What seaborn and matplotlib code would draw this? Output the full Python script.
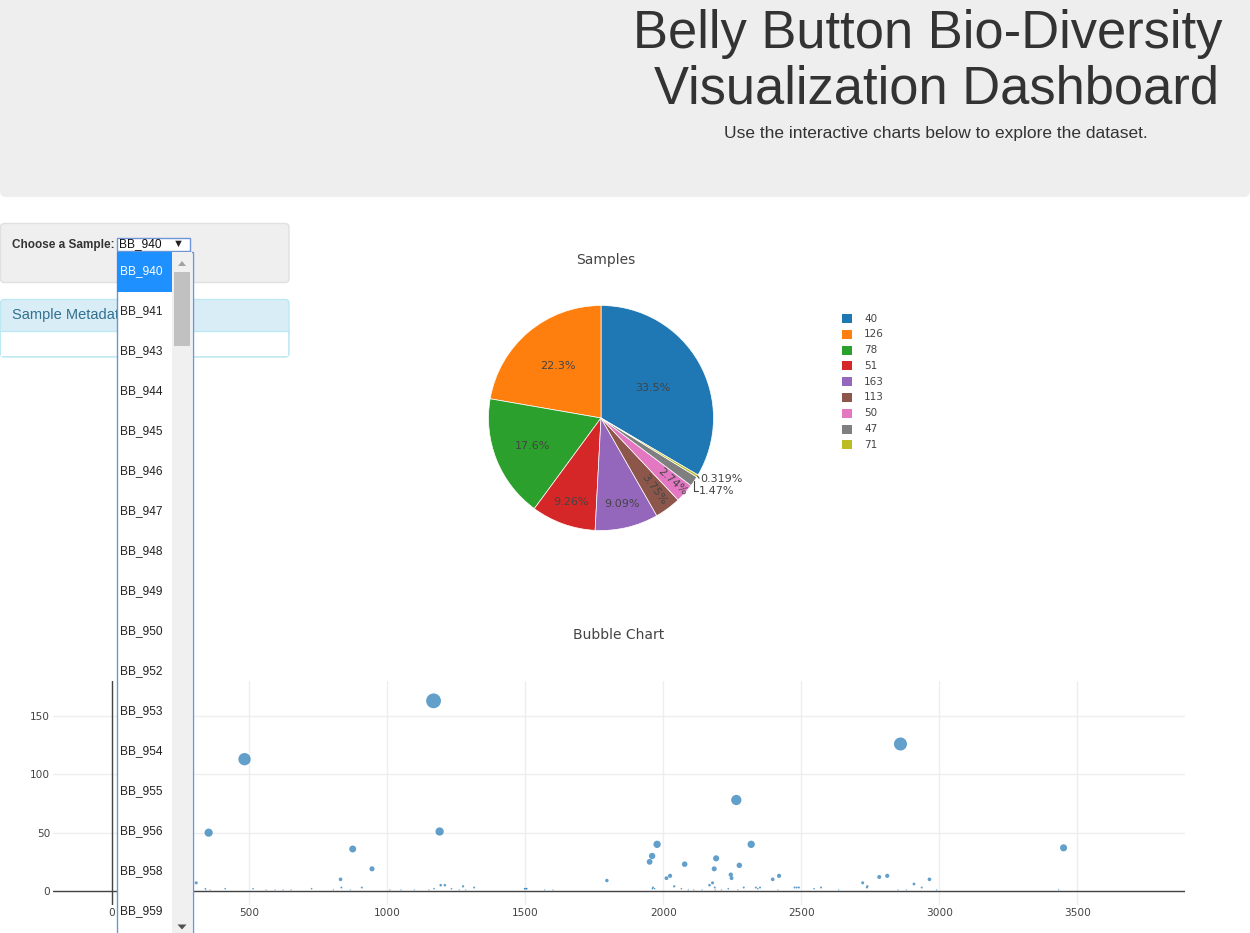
import numpy as np
import pandas as pd
import matplotlib
matplotlib.use("Agg")
import matplotlib.pyplot as plt
from matplotlib.patches import FancyBboxPatch, Rectangle, Polygon
import seaborn as sns

W, H = 1250, 933

# --- data -----------------------------------------------------------------
sample_names = ["BB_940", "BB_941", "BB_943", "BB_944", "BB_945", "BB_946",
                "BB_947", "BB_948", "BB_949", "BB_950", "BB_952", "BB_953",
                "BB_954", "BB_955", "BB_956", "BB_958", "BB_959"]
selected = "BB_940"

otu_ids = [1167, 2859, 482, 2264, 41, 1189, 352, 189, 2318, 1977,
           3450, 874, 1959, 2191, 1950, 2077, 2275, 944, 2184, 2244,
           2024, 2419, 2811, 165, 2782, 2247, 2011, 2396, 830, 2964,
           1795, 2722, 307, 2178, 2908, 1193, 2167, 1208, 2039, 1274,
           2739, 2737, 1314, 1962, 2186, 2335, 2936, 907, 833, 2483,
           2475, 2491, 2291, 159, 2571, 2350, 2342, 2546, 725, 170,
           1505, 513, 259, 1169, 258, 1232, 1497, 1498, 1503, 412,
           2235, 1960, 1968, 121, 2065, 340, 2110, 2188, 357, 342,
           560, 593, 622, 651, 804, 865, 1009, 1049, 1097, 1150,
           1260, 1284, 1570, 1600, 2090, 2140, 2210, 2270, 2415, 2635,
           2850, 2880, 2990, 3432]
sample_values = [163, 126, 113, 78, 71, 51, 50, 47, 40, 40,
                 37, 36, 30, 28, 25, 23, 22, 19, 19, 14,
                 13, 13, 13, 12, 12, 11, 11, 10, 10, 10,
                 9, 7, 7, 7, 6, 5, 5, 5, 4, 4,
                 4, 3, 3, 3, 3, 3, 3, 3, 3, 3,
                 3, 3, 3, 3, 3, 3, 2, 2, 2, 2,
                 2, 2, 2, 2, 2, 2, 2, 2, 2, 2,
                 2, 2, 2, 2, 2, 2, 1, 1, 1, 1,
                 1, 1, 1, 1, 1, 1, 1, 1, 1, 1,
                 1, 1, 1, 1, 1, 1, 1, 1, 1, 1,
                 1, 1, 1, 1]

x_ticks = [0, 500, 1000, 1500, 2000, 2500, 3000, 3500]
y_ticks = [0, 50, 100, 150]

sns.set_theme(style="white")
plt.rcParams['font.family'] = ['DejaVu Sans']

HTML_FONT = ['Liberation Sans', 'DejaVu Sans']
PLOT_TXT = '#444444'

fig = plt.figure(figsize=(12.5, 9.33), dpi=100)


def px_box(x0, y0, x1, y1):
    return [x0 / W, 1 - y1 / H, (x1 - x0) / W, (y1 - y0) / H]


# --- page background (header + side panels) ---------------------------------
bg = fig.add_axes([0, 0, 1, 1], zorder=0)
bg.set_xlim(0, W)
bg.set_ylim(H, 0)
bg.axis("off")

bg.add_patch(FancyBboxPatch((0, -20), W, 217, boxstyle="round,pad=0,rounding_size=6",
                            fc="#eeeeee", ec="none"))
bg.text(928, 48, "Belly Button Bio-Diversity", ha="center", va="baseline",
        fontsize=37.8, family=HTML_FONT, color="#333333")
bg.text(936, 104, "Visualization Dashboard", ha="center", va="baseline",
        fontsize=37.8, family=HTML_FONT, color="#333333")
bg.text(936, 138, "Use the interactive charts below to explore the dataset.",
        ha="center", va="baseline", fontsize=12.5, family=HTML_FONT, color="#333333")

# sample chooser well
bg.add_patch(FancyBboxPatch((0.5, 223.5), 288.5, 59, boxstyle="round,pad=0,rounding_size=4",
                            fc="#efefef", ec="#e0e0e0", lw=1))
bg.text(12, 245, "Choose a Sample:", ha="left", va="center", fontsize=8.5,
        fontweight="bold", family=HTML_FONT, color="#333333")
bg.add_patch(Rectangle((116.5, 237.5), 73.5, 13.5, fc="white", ec="#6f95d6", lw=1))
bg.text(119, 244.5, selected, ha="left", va="center", fontsize=8.6,
        family=HTML_FONT, color="#111111")
bg.text(178, 244, "\u25BC", ha="center", va="center", fontsize=8,
        family=HTML_FONT, color="#222222")

# metadata panel (its title runs under the open dropdown list, as on the page)
bg.add_patch(FancyBboxPatch((0.5, 299.5), 288.5, 57.5, boxstyle="round,pad=0,rounding_size=4",
                            fc="#d9edf7", ec="#bce8f1", lw=1))
bg.add_patch(Rectangle((1.2, 331), 287, 25.3, fc="white", ec="none"))
bg.plot([1, 289], [331, 331], color="#bce8f1", lw=1)
bg.text(12, 315.5, "Sample Metadata", ha="left", va="center", fontsize=10.5,
        family=HTML_FONT, color="#31708f")

# --- pie chart --------------------------------------------------------------
top = pd.DataFrame({"otu_id": otu_ids[:10], "sample_value": sample_values[:10]})
pie_df = (top.groupby("sample_value", as_index=False)["otu_id"].sum()
             .sort_values("otu_id", ascending=False).reset_index(drop=True))
pie_df["label"] = pie_df["sample_value"].astype(str)
total = pie_df["otu_id"].sum()
pie_df["pct"] = 100 * pie_df["otu_id"] / total
colors = sns.color_palette("tab10", len(pie_df))

pie_ax = fig.add_axes(px_box(601 - 112.5, 418 - 112.5, 601 + 112.5, 418 + 112.5))
wedges, _ = pie_ax.pie(pie_df["otu_id"], colors=colors,
                       startangle=90 - 3.6 * pie_df["pct"].iloc[0], counterclock=True,
                       wedgeprops=dict(edgecolor="white", linewidth=0.5))
pie_ax.set_xlim(-1, 1)
pie_ax.set_ylim(-1, 1)

r_in = [0.53, 0.6, 0.66, 0.79, 0.79, 0.79, 0.85]
for i, w in enumerate(wedges):
    mid = np.deg2rad((w.theta1 + w.theta2) / 2)
    c, s = np.cos(mid), np.sin(mid)
    txt = f"{pie_df['pct'].iloc[i]:.3g}%"
    if i < len(r_in):
        rot = 0
        if i >= 5:
            rot = np.rad2deg(mid) - 360
        pie_ax.text(r_in[i] * c, r_in[i] * s, txt, ha="center", va="center",
                    fontsize=8, color=PLOT_TXT, rotation=rot, rotation_mode="anchor")
    elif i == 7:
        pie_ax.plot([c, c, 0.86], [s, -0.645, -0.645], color=PLOT_TXT, lw=0.8,
                    clip_on=False)
        pie_ax.text(0.87, -0.645, txt, ha="left", va="center", fontsize=8,
                    color=PLOT_TXT, clip_on=False)
    else:
        pie_ax.plot([c, 0.872], [s, -0.535], color=PLOT_TXT, lw=0.8, clip_on=False)
        pie_ax.text(0.88, -0.54, txt, ha="left", va="center", fontsize=8,
                    color=PLOT_TXT, clip_on=False)

bg.text(606, 260, "Samples", ha="center", va="center", fontsize=10, color=PLOT_TXT)

# legend
for i, lab in enumerate(pie_df["label"]):
    y = 314 + i * 15.8
    bg.add_patch(Rectangle((842, y), 10, 9, fc=colors[i], ec="none"))
    bg.text(864, y + 4.5, lab, ha="left", va="center", fontsize=7.5, color=PLOT_TXT)

# --- bubble chart -----------------------------------------------------------
bub_df = pd.DataFrame({"otu_id": otu_ids, "sample_value": sample_values})
bub = fig.add_axes(px_box(53, 681, 1185, 905), zorder=1)
bub.grid(True, color="#eeeeee", lw=1)
bub.set_axisbelow(True)
sns.scatterplot(data=bub_df, x="otu_id", y="sample_value", size="sample_value",
                sizes=(0, 114), size_norm=(0, 163), color="#1f77b4", alpha=0.7,
                linewidth=0, legend=False, ax=bub, zorder=3)
bub.axhline(0, color="#444444", lw=1, zorder=2)
bub.axvline(0, color="#444444", lw=1, zorder=2)
bub.set_xlim(-212, 3890)
bub.set_ylim(-12, 180)
bub.set_xticks(x_ticks)
bub.set_yticks(y_ticks)
bub.set_xlabel("")
bub.set_ylabel("")
for sp in bub.spines.values():
    sp.set_visible(False)
bub.tick_params(length=0, labelsize=7.6, colors=PLOT_TXT, pad=2)
bg.text(619, 635, "Bubble Chart", ha="center", va="center", fontsize=10, color=PLOT_TXT)

# --- open dropdown list (drawn over everything) -----------------------------
ov = fig.add_axes([0, 0, 1, 1], zorder=10)
ov.set_xlim(0, W)
ov.set_ylim(H, 0)
ov.axis("off")
ov.patch.set_alpha(0)

ov.add_patch(Rectangle((116.5, 251.5), 76, 720, fc="white", ec="#7094d0", lw=1))
ov.add_patch(Rectangle((172, 252), 20, 720, fc="#f0f0f0", ec="none"))
ov.add_patch(Rectangle((174, 272), 16, 74, fc="#c1c1c1", ec="none"))
ov.add_patch(Polygon([(178, 266), (186, 266), (182, 261)], closed=True, fc="#a3a3a3", ec="none"))
ov.add_patch(Polygon([(177.5, 924.5), (186.5, 924.5), (182, 929.5)], closed=True,
                     fc="#505050", ec="none"))
for i, name in enumerate(sample_names):
    y = 271.5 + 40 * i
    if name == selected:
        ov.add_patch(Rectangle((117, 252), 55, 39.5, fc="#1e90ff", ec="none"))
    ov.text(120, y, name, ha="left", va="center", fontsize=8.6, family=HTML_FONT,
            color="white" if name == selected else "#222222")

fig.savefig("out.png", dpi=100)
